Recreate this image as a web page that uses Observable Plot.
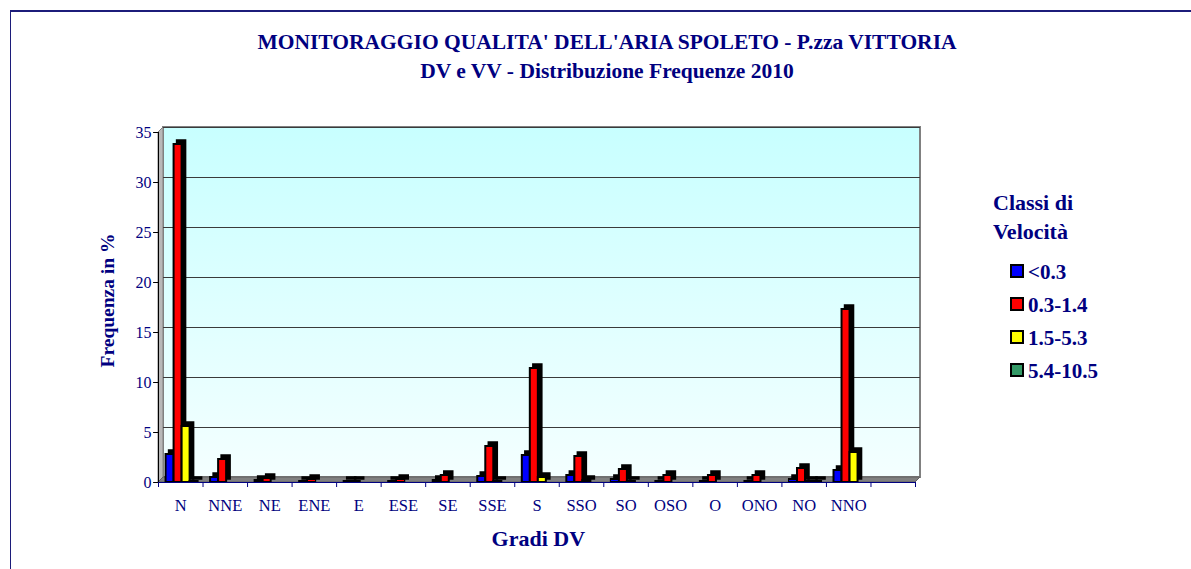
<!DOCTYPE html>
<html>
<head>
<meta charset="utf-8">
<script src="https://cdn.jsdelivr.net/npm/d3@7"></script>
<script src="https://cdn.jsdelivr.net/npm/@observablehq/plot@0.6"></script>
<style>
  html, body { margin: 0; padding: 0; background: #fff; }
  #wrap { position: relative; width: 1191px; height: 569px; overflow: hidden; font-family: "Liberation Serif", "Times New Roman", serif; color: #000080; }
  #frame { position: absolute; left: 10px; top: 10px; width: 1300px; height: 700px; border-top: 2px solid #1c1c7a; border-left: 1px solid #1c1c7a; }
  .title { position: absolute; left: 0; width: 1214px; text-align: center; font-weight: bold; font-size: 21.5px; line-height: 24px; }
  #chart { position: absolute; left: 0; top: 0; }
  .leghead { position: absolute; left: 993px; font-weight: bold; font-size: 22px; line-height: 24px; }
  .legitem { position: absolute; left: 1010px; font-weight: bold; font-size: 21px; line-height: 22px; white-space: nowrap; }
  .legitem span.sw { display: inline-block; width: 10px; height: 10px; border: 2px solid #000; margin-right: 4px; vertical-align: 1px; }
</style>
</head>
<body>
<div id="wrap">
  <div id="frame"></div>
  <div id="chart"></div>
  <div class="title" style="top:30px">MONITORAGGIO QUALITA' DELL'ARIA SPOLETO - P.zza VITTORIA</div>
  <div class="title" style="top:59px">DV e VV - Distribuzione Frequenze 2010</div>
  <div class="leghead" style="top:191px">Classi di</div>
  <div class="leghead" style="top:220px">Velocità</div>
  <div id="legend"></div>
</div>
<script>
const categories = ["N","NNE","NE","ENE","E","ESE","SE","SSE","S","SSO","SO","OSO","O","ONO","NO","NNO"];
const classes = ["<0.3","0.3-1.4","1.5-5.3","5.4-10.5"];
const classColors = ["#0000FF","#FF0000","#FFFF00","#339966"];
const vLt03   = [2.8, 0.5, 0.2, 0.1, 0.1, 0.1, 0.2, 0.6, 2.7, 0.7, 0.3, 0.1, 0.1, 0.1, 0.3, 1.2];
const v03_14  = [33.8, 2.3, 0.4, 0.3, 0.1, 0.3, 0.7, 3.6, 11.4, 2.6, 1.3, 0.7, 0.7, 0.7, 1.4, 17.3];
const v15_53  = [5.6, 0, 0, 0, 0, 0, 0, 0.1, 0.5, 0.2, 0.1, 0, 0, 0, 0.1, 3.0];
const v54_105 = [0.1, 0, 0, 0, 0, 0, 0, 0, 0, 0, 0, 0, 0, 0, 0.1, 0];
const yTicks = [0, 5, 10, 15, 20, 25, 30, 35];
const xTitle = "Gradi DV";
const yTitle = "Frequenza in %";

const series = [vLt03, v03_14, v15_53, v54_105];
const slots = categories.length + 1; // one empty slot at the end, as in the original
const barW = 0.18, groupStart = 0.17;
const data = [];
series.forEach((vals, k) => vals.forEach((v, i) => data.push({
  cat: categories[i], cls: classes[k], value: v,
  x1: i + groupStart + k * barW, x2: i + groupStart + (k + 1) * barW
})));

const D = 5; // wall depth in px
const chart = Plot.plot({
  width: 1191, height: 569,
  marginLeft: 158, marginRight: 276, marginTop: 132, marginBottom: 87,
  x: {type: "linear", domain: [0, slots], axis: null},
  y: {domain: [0, 35], axis: null},
  color: {domain: classes, range: classColors},
  style: {background: "transparent", fontFamily: "Liberation Serif, Times New Roman, serif"},
  marks: [
    // back wall
    Plot.rect([0], {x1: 0, x2: slots, y1: 0, y2: 35, dx: D, dy: -D, fill: "url(#wallGrad)", stroke: "#808080", strokeWidth: 2}),
    // gridlines
    Plot.ruleY(yTicks.filter(d => d > 0), {x1: 0, x2: slots, dx: D, dy: -D, stroke: "#3a3a3a", strokeWidth: 1}),
    // bars: 3D shadow then front face
    Plot.rect(data, {x1: "x1", x2: "x2", y1: 0, y2: "value", dx: 3.5, dy: -3.5, fill: "black", stroke: "black", strokeWidth: 2.5}),
    Plot.rect(data, {x1: "x1", x2: "x2", y1: 0, y2: "value", fill: "cls", stroke: "black", strokeWidth: 2}),
    // y axis
    Plot.ruleX([0], {y1: 0, y2: 35, stroke: "black"}),
    Plot.ruleY(yTicks, {x1: -0.11, x2: 0, stroke: "black"}),
    Plot.text(yTicks, {x: 0, y: d => d, dx: -7, textAnchor: "end", fill: "#000080", fontSize: 16}),
    // x axis
    Plot.ruleY([0], {x1: 0, x2: slots, stroke: "#000080"}),
    Plot.ruleX(d3.range(slots + 1), {y1: 0, y2: -0.5, stroke: "#000080"}),
    Plot.text(categories, {x: (d, i) => i + 0.5, y: 0, dy: 23, fill: "#000080", fontSize: 16.5}),
    // axis titles
    Plot.text([xTitle], {x: 8.53, y: 0, dy: 56, fill: "#000080", fontSize: 22, fontWeight: "bold"}),
    Plot.text([yTitle], {x: -1.13, y: 18.2, rotate: -90, fill: "#000080", fontSize: 19.5, fontWeight: "bold"})
  ]
});

// gradient + side wall + floor, placed with the chart's own scales
const sx = chart.scale("x"), sy = chart.scale("y");
const svg = d3.select(chart);
const defs = svg.insert("defs", ":first-child");
const g = defs.append("linearGradient").attr("id", "wallGrad").attr("x1", 0).attr("y1", 0).attr("x2", 0).attr("y2", 1);
g.append("stop").attr("offset", "0%").attr("stop-color", "#C8FFFF");
g.append("stop").attr("offset", "100%").attr("stop-color", "#F4FFFF");
const X0 = sx.apply(0), X1 = sx.apply(slots), Y0 = sy.apply(0), Y1 = sy.apply(35);
const deco = svg.insert("g", "g:nth-of-type(2)");
deco.append("polygon").attr("points", `${X0},${Y0} ${X0},${Y1} ${X0 + D},${Y1 - D} ${X0 + D},${Y0 - D}`).attr("fill", "#b8b8b8").attr("stroke", "#808080");
deco.append("polygon").attr("points", `${X0},${Y0} ${X1},${Y0} ${X1 + D},${Y0 - D} ${X0 + D},${Y0 - D}`).attr("fill", "#808080").attr("stroke", "#606060");

document.getElementById("chart").appendChild(chart);

// legend
const leg = document.getElementById("legend");
classes.forEach((c, k) => {
  const div = document.createElement("div");
  div.className = "legitem";
  div.style.top = (261 + k * 33) + "px";
  div.innerHTML = `<span class="sw" style="background:${classColors[k]}"></span>${c}`;
  leg.appendChild(div);
});
</script>
</body>
</html>
